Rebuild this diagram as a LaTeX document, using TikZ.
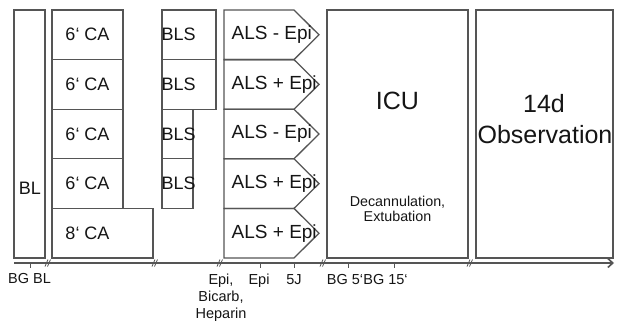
\documentclass[tikz,border=0pt]{standalone}
\usepackage{fontspec}
\setmainfont{Liberation Sans}
\usetikzlibrary{arrows.meta}
\definecolor{boxc}{HTML}{555555}
\definecolor{txt}{HTML}{151515}
\tikzset{
  box/.style={draw=boxc, line width=1.3pt, rectangle, inner sep=0pt, outer sep=0pt, anchor=north west},
  chev/.style={draw=boxc, line width=1.3pt, line join=miter},
  big/.style={font=\fontsize{18}{20}\selectfont, text=txt, inner sep=0pt},
  als/.style={font=\fontsize{19}{21}\selectfont, text=txt, inner sep=0pt, anchor=west},
  huge/.style={font=\fontsize{25}{28}\selectfont, text=txt, inner sep=0pt, anchor=base},
  small/.style={font=\fontsize{14.3}{16}\selectfont, text=txt, inner sep=0pt, anchor=base},
  axl/.style={font=\fontsize{14.5}{17}\selectfont, text=txt, inner sep=0pt, anchor=base},
  axis/.style={draw=boxc, line width=1.3pt},
  brk/.style={draw=boxc, line width=0.8pt},
}
\begin{document}
\begin{tikzpicture}[x=1pt,y=-1pt]
\useasboundingbox (0,0) rectangle (617,324);
% BL
\node[box, minimum width=31pt, minimum height=248pt] (bl) at (14,10) {};
\node[big] (bltext) at (30,188) {BL};
% CA column
\foreach \i/\t in {1/10,2/59.6,3/109.2,4/158.8}{
  \node[box, minimum width=71pt, minimum height=49.6pt] (ca\i) at (52,\t) {};
  \node[big] (cat\i) at (ca\i.center) {6‘ CA};
}
\node[box, minimum width=101pt, minimum height=49.6pt] (ca5) at (52,208.4) {};
\node[big] (cat5) at (87.5,233.2) {8‘ CA};
% BLS column
\node[box, minimum width=54pt, minimum height=49.6pt] (bls1) at (162,10) {};
\node[box, minimum width=54pt, minimum height=49.6pt] (bls2) at (162,59.6) {};
\node[box, minimum width=31pt, minimum height=49.6pt] (bls3) at (162,109.2) {};
\node[box, minimum width=31pt, minimum height=49.6pt] (bls4) at (162,158.8) {};
\foreach \i in {1,2,3,4}{
  \node[big, anchor=west] (blst\i) at ([xshift=-0.5pt]bls\i.west) {BLS};
}
% ALS chevrons
\foreach \i/\t/\s in {1/10/{ALS - Epi},2/59.6/{ALS + Epi},3/109.2/{ALS - Epi},4/158.8/{ALS + Epi},5/208.4/{ALS + Epi}}{
  \draw[chev] (224,\t) -- (294,\t) -- (319,\t+24.8) -- (294,\t+49.6) -- (224,\t+49.6) -- cycle;
  \node[als] (als\i) at (231.5,\t+24.8) {\s};
}
% ICU
\node[box, minimum width=141pt, minimum height=248pt] (icu) at (327,10) {};
\node[huge] (icut) at (397.5,109) {ICU};
\node[small] (dec1) at (397.5,206) {Decannulation,};
\node[small] (dec2) at (397.5,221.7) {Extubation};
% Observation
\node[box, minimum width=137pt, minimum height=248pt] (obs) at (476,10) {};
\node[huge] (obs1) at (544,112) {14d};
\node[huge] (obs2) at (545,143) {Observation};
% axis
\coordinate (a0) at (14,263);
\coordinate (a1) at (614,263);
\draw[axis, -{Straight Barb[length=5pt,width=9pt,line width=1.6pt]}] (a0) -- (a1);
\foreach \x in {30,260,294,348,394}{
  \draw[brk, line width=1pt] (\x,263) -- (\x,267.5);
}
\foreach \x in {48,155,220,323,470}{
  \draw[brk] (\x-3,266.5) -- (\x,259.5);
  \draw[brk] (\x-0.5,266.5) -- (\x+2.5,259.5);
}
% axis labels
\node[axl] (l1) at (29.5,283) {BG BL};
\node[axl] (l2a) at (221,284) {Epi,};
\node[axl] (l2b) at (221,301) {Bicarb,};
\node[axl] (l2c) at (221,318) {Heparin};
\node[axl] (l3) at (259,284) {Epi};
\node[axl] (l4) at (294,284) {5J};
\node[axl] (l5) at (345,284) {BG 5‘};
\node[axl] (l6) at (385.5,284) {BG 15‘};
\end{tikzpicture}
\end{document}
